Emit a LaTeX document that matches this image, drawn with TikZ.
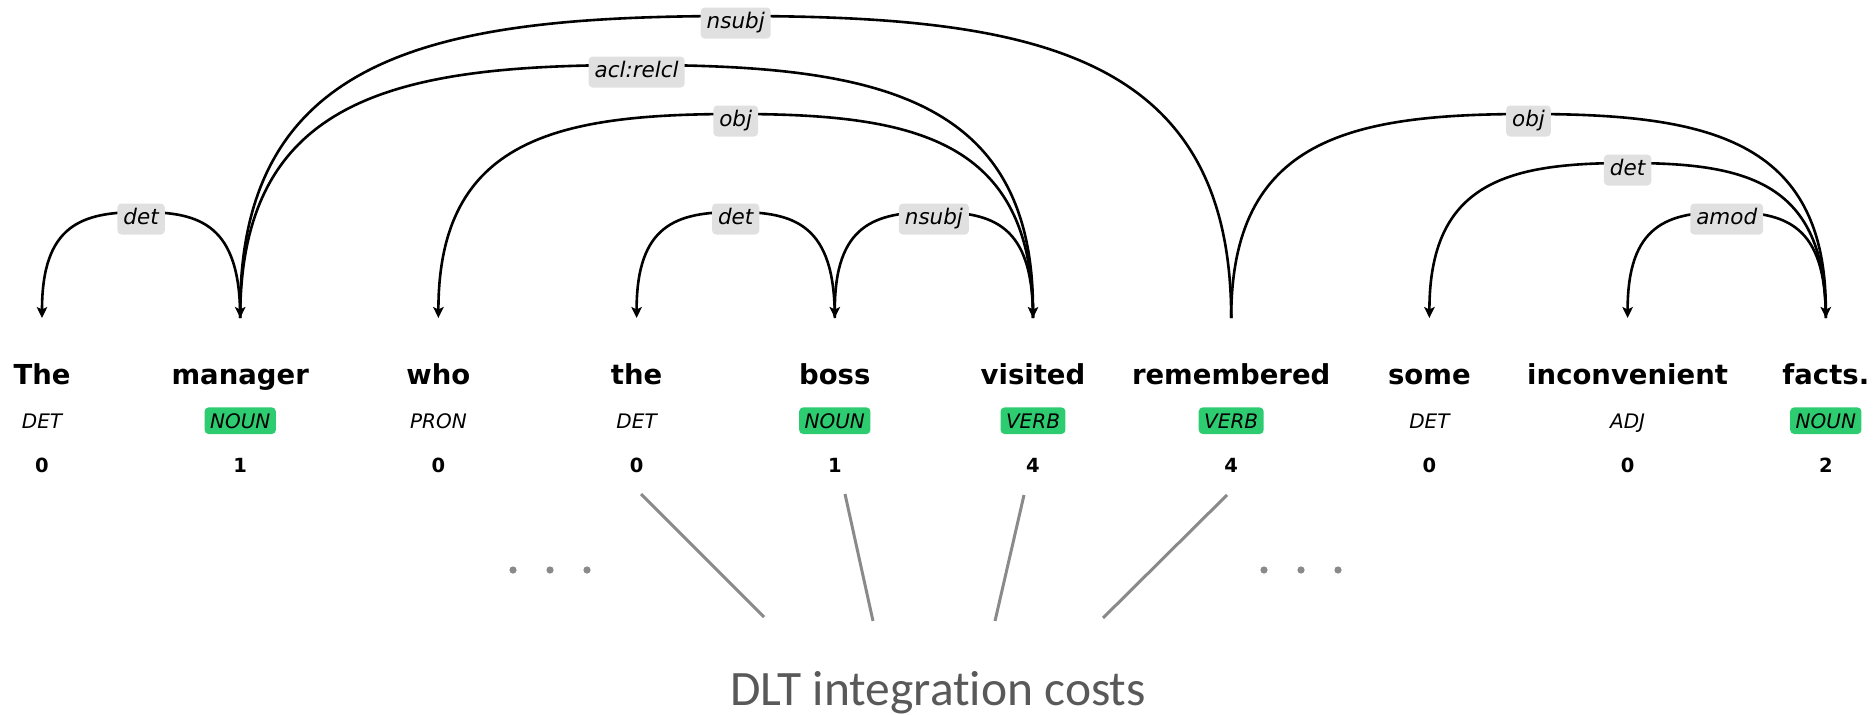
\documentclass[tikz,border=0pt]{standalone}
\usepackage{fontspec}
\setmainfont{DejaVu Sans}
\newfontfamily\dltfont[Ligatures=NoCommon]{Carlito}
\usetikzlibrary{arrows.meta,calc}
\definecolor{nlpgreen}{RGB}{46,204,113}
\definecolor{lblgray}{RGB}{224,224,224}
\definecolor{linegray}{RGB}{138,138,138}
\definecolor{textgray}{RGB}{89,89,89}
\tikzset{
  word/.style={font=\bfseries\fontsize{27.5}{30}\selectfont, anchor=base, inner sep=0pt},
  postag/.style={font=\itshape\fontsize{20}{22}\selectfont, anchor=base, rounded corners=4pt,
    inner xsep=5.5pt, inner ysep=6pt, text height=14.6pt, text depth=0pt},
  cost/.style={font=\bfseries\fontsize{19.5}{22}\selectfont, anchor=base, inner sep=0pt},
  lbl/.style={font=\itshape\fontsize{21.5}{24}\selectfont, fill=lblgray, rounded corners=4pt,
    inner xsep=6pt, inner ysep=5pt, text height=16pt, text depth=5pt, yshift=-7pt},
  arcline/.style={line width=2.6pt, -{Stealth[length=11pt,width=10.5pt,inset=2.5pt]}},
  costline/.style={linegray, line width=3pt},
  dotmark/.style={fill=linegray},
  dltlabel/.style={font=\dltfont\fontsize{49.5}{55}\selectfont, text=textgray, anchor=base, inner sep=0pt}
}
\newcommand\deparc[4]{%
  \draw[arcline] let \p1=(#1), \p2=(#2), \n1={(\x1+\x2)/2}, \n2={0.6*(\x2-\x1)/2},
      \n3={\y1+#3}, \n4={\y1+0.88*#3} in
    (#1) .. controls (\x1,\n4) and (\n1-\n2,\n3) .. (\n1,\n3) node[lbl]{#4}
    .. controls (\n1+\n2,\n3) and (\x2,\n4) .. (#2);}
\begin{document}
\begin{tikzpicture}[x=1pt,y=1pt]
\useasboundingbox (0,0) rectangle (1875,-715);
\foreach \w/\p/\n/\c [count=\i from 0] in {The/DET/0/none, manager/NOUN/1/nlpgreen, who/PRON/0/none,
  the/DET/0/none, boss/NOUN/1/nlpgreen, visited/VERB/4/nlpgreen, remembered/VERB/4/nlpgreen,
  some/DET/0/none, inconvenient/ADJ/0/none, facts./NOUN/2/nlpgreen}{
  \pgfmathsetmacro\xx{42+198.2*\i}
  \node[word] (w\i) at (\xx,-384) {\w};
  \node[postag, fill=\c] (p\i) at (\xx,-428) {\p};
  \node[cost] (n\i) at (\xx,-472) {\n};
  \coordinate (a\i) at (\xx,-318);
}
\deparc{a1}{a0}{106}{det}
\deparc{a6}{a1}{302}{nsubj}
\deparc{a1}{a5}{253}{acl:relcl}
\deparc{a5}{a2}{204}{obj}
\deparc{a4}{a3}{106}{det}
\deparc{a5}{a4}{106}{nsubj}
\deparc{a6}{a9}{204}{obj}
\deparc{a9}{a7}{155}{det}
\deparc{a9}{a8}{106}{amod}
% DLT part
\node[dltlabel] (dlt) at (938,-705) {DLT integration costs};
\coordinate (l1a) at (641,-494); \coordinate (l1b) at (764,-617);
\coordinate (l2a) at (845,-494); \coordinate (l2b) at (873,-621);
\coordinate (l3a) at (1024,-495); \coordinate (l3b) at (995,-621);
\coordinate (l4a) at (1227,-495); \coordinate (l4b) at (1103,-618);
\draw[costline] (l1a) -- (l1b);
\draw[costline] (l2a) -- (l2b);
\draw[costline] (l3a) -- (l3b);
\draw[costline] (l4a) -- (l4b);
\foreach \dx in {513,550,587,1264,1301,1338}{
  \fill[dotmark] (\dx,-570) circle (3.6);
}
\end{tikzpicture}
\end{document}
